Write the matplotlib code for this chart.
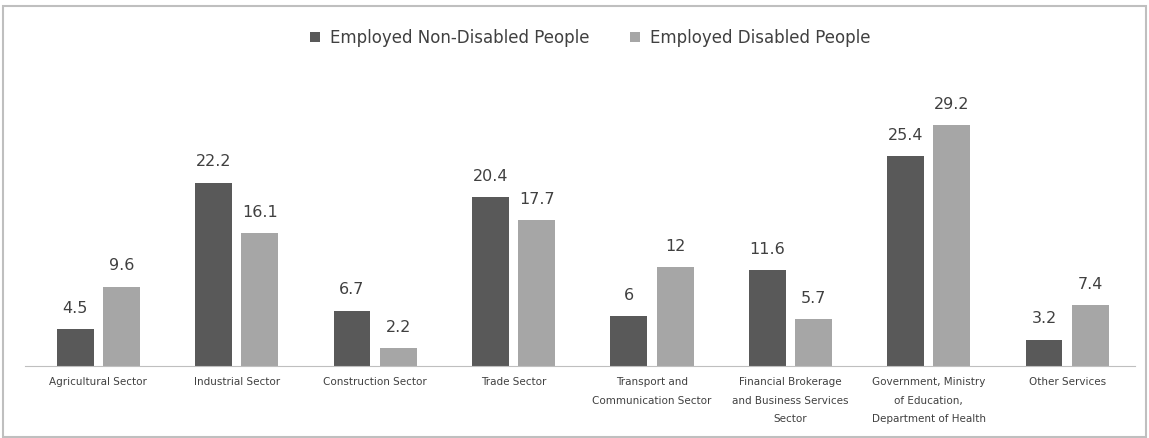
import numpy as np
import matplotlib
matplotlib.use("Agg")
import matplotlib.pyplot as plt
import matplotlib.patches as mpatches

# data
categories = [
    "Agricultural Sector",
    "Industrial Sector",
    "Construction Sector",
    "Trade Sector",
    "Transport and\nCommunication Sector",
    "Financial Brokerage\nand Business Services\nSector",
    "Government, Ministry\nof Education,\nDepartment of Health",
    "Other Services",
]
non_disabled = [4.5, 22.2, 6.7, 20.4, 6, 11.6, 25.4, 3.2]
disabled = [9.6, 16.1, 2.2, 17.7, 12, 5.7, 29.2, 7.4]
series_names = ["Employed Non-Disabled People", "Employed Disabled People"]

plt.rcParams["font.family"] = ["DejaVu Sans"]

W, H = 1149, 438
fig = plt.figure(figsize=(W / 100, H / 100), dpi=100)
ax = fig.add_axes([25 / W, (H - 366) / H, 1110 / W, 266 / H])

x = np.arange(len(categories))
bw = 0.267
gap = 0.034
dark, light = "#595959", "#a6a6a6"
b1 = ax.bar(x - bw / 2 - gap, non_disabled, bw, color=dark, label=series_names[0])
b2 = ax.bar(x + bw / 2 + gap, disabled, bw, color=light, label=series_names[1])

for bars, vals in ((b1, non_disabled), (b2, disabled)):
    for r, v in zip(bars, vals):
        ax.text(r.get_x() + r.get_width() / 2, v + 1.6, f"{v:g}",
                ha="center", va="bottom", fontsize=11.5, color="#404040")

ax.set_xlim(-0.53, len(categories) - 0.51)
ax.set_ylim(0, 32.2)
ax.set_xticks(x)
ax.set_xticklabels(categories, fontsize=7.5, color="#404040", linespacing=2.05)
ax.tick_params(axis="x", length=0, pad=8)
ax.set_yticks([])
for s in ("top", "right", "left"):
    ax.spines[s].set_visible(False)
ax.spines["bottom"].set_color("#bfbfbf")

fig.legend(handles=[b1, b2], loc="center", bbox_to_anchor=(590 / W, 1 - 38 / H),
           ncol=2, frameon=False, fontsize=12, handlelength=0.6, handleheight=0.6,
           columnspacing=2.4, handletextpad=0.6, labelcolor="#404040")

# outer frame
fig.patches.append(mpatches.Rectangle((3 / W, 1.5 / H), (W - 6) / W, (H - 7) / H,
                                      transform=fig.transFigure, fill=False,
                                      edgecolor="#bfbfbf", linewidth=1.5))

fig.savefig("out.png", dpi=100)
